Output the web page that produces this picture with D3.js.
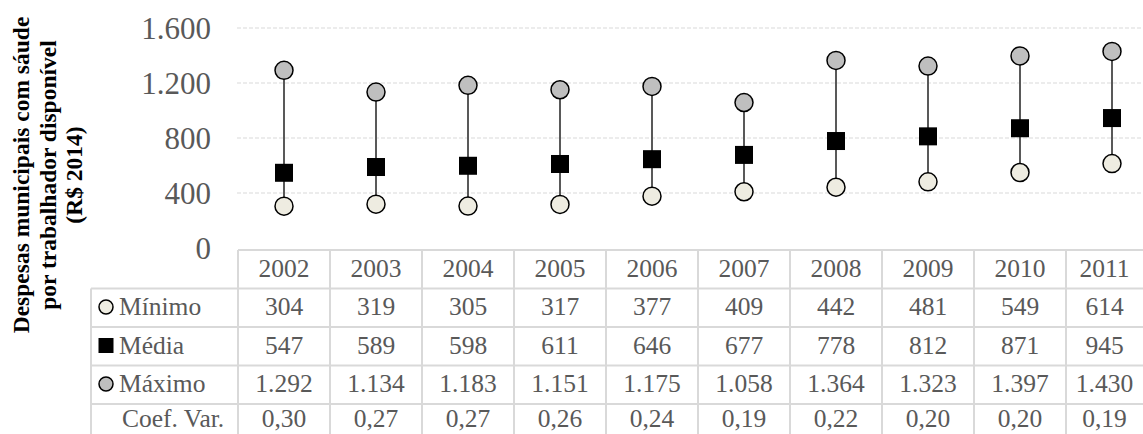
<!DOCTYPE html>
<html>
<head>
<meta charset="utf-8">
<script src="https://cdn.jsdelivr.net/npm/d3@7"></script>
<style>
  html, body { margin: 0; padding: 0; background: #fff; }
  svg { display: block; }
  text { font-family: "Liberation Serif", "Times New Roman", serif; }
</style>
</head>
<body>
<svg id="chart" width="1143" height="434"></svg>
<script>
// Annual municipal health spending per available worker (R$ 2014)
const years   = ["2002", "2003", "2004", "2005", "2006", "2007", "2008", "2009", "2010", "2011"];
const minimo  = [304, 319, 305, 317, 377, 409, 442, 481, 549, 614];
const media   = [547, 589, 598, 611, 646, 677, 778, 812, 871, 945];
const maximo  = [1292, 1134, 1183, 1151, 1175, 1058, 1364, 1323, 1397, 1430];
const coefVar = [0.30, 0.27, 0.27, 0.26, 0.24, 0.19, 0.22, 0.20, 0.20, 0.19];
const yTicks  = [0, 400, 800, 1200, 1600];
const rowLabels = ["Mínimo", "Média", "Máximo", "Coef. Var."];
const yTitle  = ["Despesas municipais com sáude", "por trabalhador disponível", "(R$ 2014)"];

const W = 1143, H = 434;
const svg = d3.select("#chart");

const ptBR = d3.formatLocale({ decimal: ",", thousands: ".", grouping: [3], currency: ["R$", ""] });
const fmtInt = ptBR.format(",d");
const fmtDec = ptBR.format(",.2f");

const colW = 92;
const x0 = 238;
const x = d3.scaleBand().domain(years).range([x0, x0 + colW * years.length]).padding(0);
const y = d3.scaleLinear().domain([0, 1600]).range([248, 28]);

const gridColor = "#d9d9d9";
const textGray = "#595959";

// gridlines
svg.append("g").selectAll("line").data(yTicks.filter(d => d > 0)).join("line")
  .attr("x1", x0 - 1).attr("x2", W)
  .attr("y1", d => y(d)).attr("y2", d => y(d))
  .attr("stroke", gridColor).attr("stroke-width", 1)
  .attr("stroke-dasharray", "4,2");

// y axis tick labels
const yAxis = d3.axisLeft(y).tickValues(yTicks).tickFormat(d => fmtInt(d)).tickSize(0).tickPadding(0);
const yg = svg.append("g").attr("transform", "translate(211,0)").call(yAxis);
yg.select(".domain").remove();
yg.selectAll("text")
  .attr("fill", textGray)
  .attr("dy", "0.34em")
  .style("font-family", '"Liberation Serif", "Times New Roman", serif')
  .style("font-size", "31px");

// y axis title
const title = svg.append("text")
  .attr("transform", "translate(0,175) rotate(-90)")
  .attr("text-anchor", "middle")
  .attr("font-weight", "bold")
  .attr("font-size", "23.5px")
  .attr("fill", "#000");
yTitle.forEach((t, i) => {
  title.append("tspan").attr("x", 0).attr("y", 29 + i * 26.5).text(t);
});

// range lines
const cx = d => x(d) + x.bandwidth() / 2;
svg.append("g").selectAll("line").data(years).join("line")
  .attr("x1", cx).attr("x2", cx)
  .attr("y1", (d, i) => y(minimo[i])).attr("y2", (d, i) => y(maximo[i]))
  .attr("stroke", "#595959").attr("stroke-width", 2);

// minimum markers
svg.append("g").selectAll("circle").data(years).join("circle")
  .attr("cx", cx).attr("cy", (d, i) => y(minimo[i])).attr("r", 9)
  .attr("fill", "#eeece1").attr("stroke", "#000").attr("stroke-width", 1.5);

// maximum markers
svg.append("g").selectAll("circle").data(years).join("circle")
  .attr("cx", cx).attr("cy", (d, i) => y(maximo[i])).attr("r", 9)
  .attr("fill", "#bfbfbf").attr("stroke", "#000").attr("stroke-width", 1.5);

// mean markers
const sq = 18;
svg.append("g").selectAll("rect").data(years).join("rect")
  .attr("x", d => cx(d) - sq / 2).attr("y", (d, i) => y(media[i]) - sq / 2)
  .attr("width", sq).attr("height", sq).attr("fill", "#000");

// data table
const rowTop = 250, rowH = 38.5;
const labelX0 = 91;
const tbl = svg.append("g");
const nRows = 5;
// horizontal rules
for (let r = 0; r <= nRows; r++) {
  const yy = rowTop + r * rowH;
  tbl.append("line")
    .attr("x1", r === 0 ? x0 : labelX0).attr("x2", W)
    .attr("y1", yy).attr("y2", yy)
    .attr("stroke", gridColor).attr("stroke-width", 2);
}
// vertical rules
tbl.append("line").attr("x1", labelX0).attr("x2", labelX0)
  .attr("y1", rowTop + rowH).attr("y2", H).attr("stroke", gridColor).attr("stroke-width", 2);
years.forEach(d => {
  tbl.append("line").attr("x1", x(d)).attr("x2", x(d))
    .attr("y1", rowTop).attr("y2", H).attr("stroke", gridColor).attr("stroke-width", 2);
});

const cellCenter = d => (x(d) + Math.min(x(d) + x.bandwidth(), W)) / 2;
// baseline per row; the last row sits a little higher so it stays inside the frame
const rowBase = r => Math.min(rowTop + r * rowH + 26.5, H - 7.5);
const tableFont = "25.5px";

const rows = [
  years.map(d => d),
  minimo.map(fmtInt),
  media.map(fmtInt),
  maximo.map(fmtInt),
  coefVar.map(fmtDec)
];
rows.forEach((vals, r) => {
  tbl.append("g").selectAll("text").data(vals).join("text")
    .attr("x", (v, i) => cellCenter(years[i]))
    .attr("y", rowBase(r))
    .attr("text-anchor", "middle")
    .attr("font-size", tableFont)
    .attr("fill", textGray)
    .text(v => v);
});

// row labels with legend keys
rowLabels.forEach((lab, i) => {
  const r = i + 1;
  tbl.append("text")
    .attr("x", i === 3 ? 122 : 119)
    .attr("y", rowBase(r))
    .attr("font-size", tableFont).attr("fill", textGray)
    .text(lab);
});
const keyX = 106;
const keyY = r => rowBase(r) - 8;
tbl.append("circle").attr("cx", keyX).attr("cy", keyY(1)).attr("r", 7)
  .attr("fill", "#eeece1").attr("stroke", "#000").attr("stroke-width", 1.5);
tbl.append("rect").attr("x", keyX - 7.5).attr("y", keyY(2) - 7.5)
  .attr("width", 15).attr("height", 15).attr("fill", "#000");
tbl.append("circle").attr("cx", keyX).attr("cy", keyY(3)).attr("r", 7)
  .attr("fill", "#bfbfbf").attr("stroke", "#000").attr("stroke-width", 1.5);
</script>
</body>
</html>
